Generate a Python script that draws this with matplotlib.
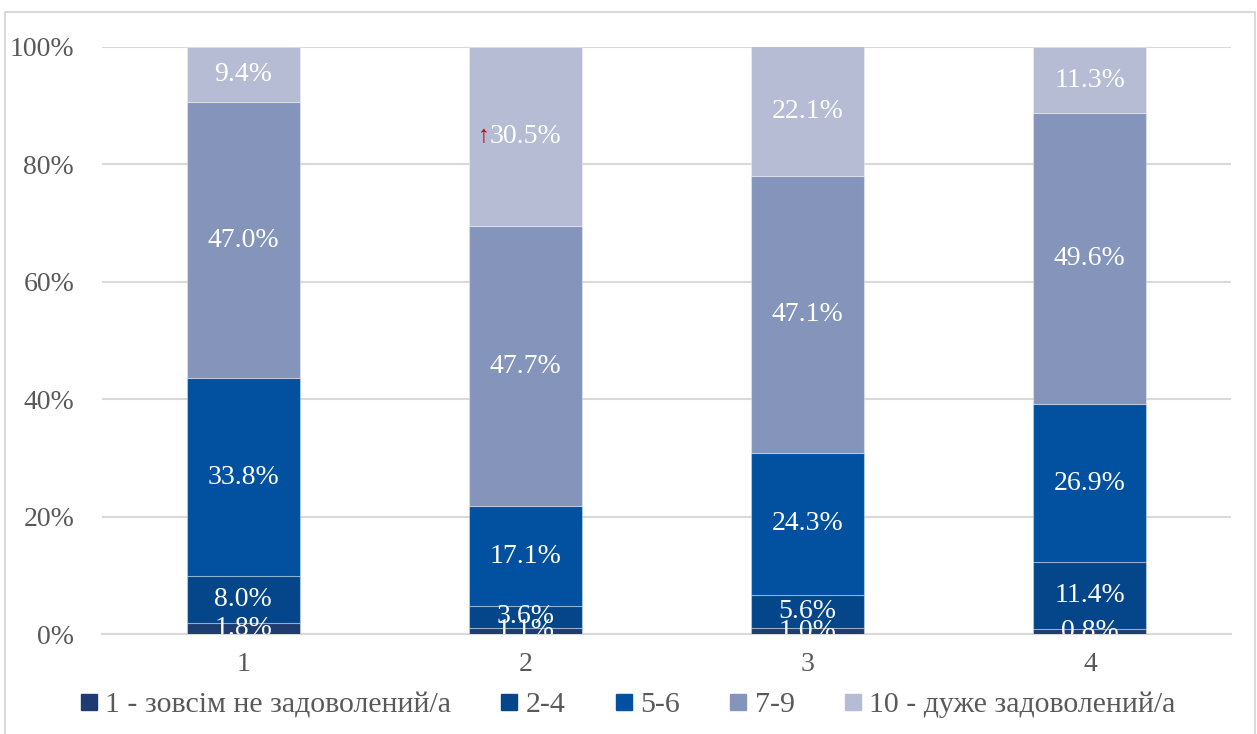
import numpy as np
import matplotlib
matplotlib.use("Agg")
import matplotlib.pyplot as plt
from matplotlib.patches import Rectangle
from matplotlib.lines import Line2D

plt.rcParams['font.family'] = ['Liberation Serif', 'DejaVu Serif']

# shares of answers per group, bottom to top
groups = ["1", "2", "3", "4"]
series = ["1 - зовсім не задоволений/а", "2-4", "5-6", "7-9", "10 - дуже задоволений/а"]
s1 = [1.8, 1.1, 1.0, 0.8]
s2 = [8.0, 3.6, 5.6, 11.4]
s3 = [33.8, 17.1, 24.3, 26.9]
s4 = [47.0, 47.7, 47.1, 49.6]
s5 = [9.4, 30.5, 22.1, 11.3]
colors = ["#1F3C70", "#05468A", "#0151A0", "#8494BA", "#B5BCD3"]

W, H = 1257, 734
fig = plt.figure(figsize=(W / 100, H / 100), dpi=100)
ax = fig.add_axes([102 / W, (H - 634) / H, (1231 - 102) / W, (634 - 47) / H])

# outer frame of the chart
fig.patches.append(Rectangle((5 / W, -0.05), 1250 / W, (H - 12) / H + 0.05,
                             transform=fig.transFigure, fill=False,
                             edgecolor="#d9d9d9", linewidth=1.5))

x = np.arange(len(groups))
bottom = np.zeros(len(groups))
for name, vals, col in zip(series, [s1, s2, s3, s4, s5], colors):
    vals = np.array(vals)
    ax.bar(x, vals, 0.4, bottom=bottom, color=col, label=name,
           edgecolor=(1, 1, 1, 0.35), linewidth=0.8, zorder=3)
    for xi, b, v in zip(x, bottom, vals):
        ax.text(xi, b + v / 2, f"{v:.1f}%", ha="center", va="center",
                color="white", fontsize=20, zorder=4, clip_on=True)
    bottom += vals

# small red marker next to the 30.5% label
ax.text(x[1] - 0.125, s1[1] + s2[1] + s3[1] + s4[1] + s5[1] / 2, "↑",
        ha="right", va="center", color="#C00000", fontsize=17, zorder=5)

ax.set_xlim(-0.5, 3.5)
ax.set_ylim(0, 100)
ax.set_yticks(np.arange(0, 101, 20))
ax.set_yticklabels([f"{v}%" for v in range(0, 101, 20)])
ax.set_xticks(x)
ax.set_xticklabels(groups)
ax.grid(axis="y", color="#d9d9d9", linewidth=1.5, zorder=0)
for sp in ["top", "right", "left"]:
    ax.spines[sp].set_visible(False)
ax.spines["bottom"].set_color("#d9d9d9")
ax.spines["bottom"].set_linewidth(1.5)
ax.tick_params(axis="both", length=0, labelsize=20, labelcolor="#595959")
ax.tick_params(axis="y", pad=20)
ax.tick_params(axis="x", pad=13)

handles = [Line2D([], [], marker="s", linestyle="none", markersize=11,
                  markerfacecolor=c, markeredgecolor=c) for c in colors]
fig.legend(handles, series, loc="center", bbox_to_anchor=(0.5, (H - 705) / H),
           ncol=5, frameon=False, fontsize=21.5, labelcolor="#595959",
           handlelength=0.5, handletextpad=0.3, columnspacing=1.7)

fig.savefig("out.png", dpi=100)
